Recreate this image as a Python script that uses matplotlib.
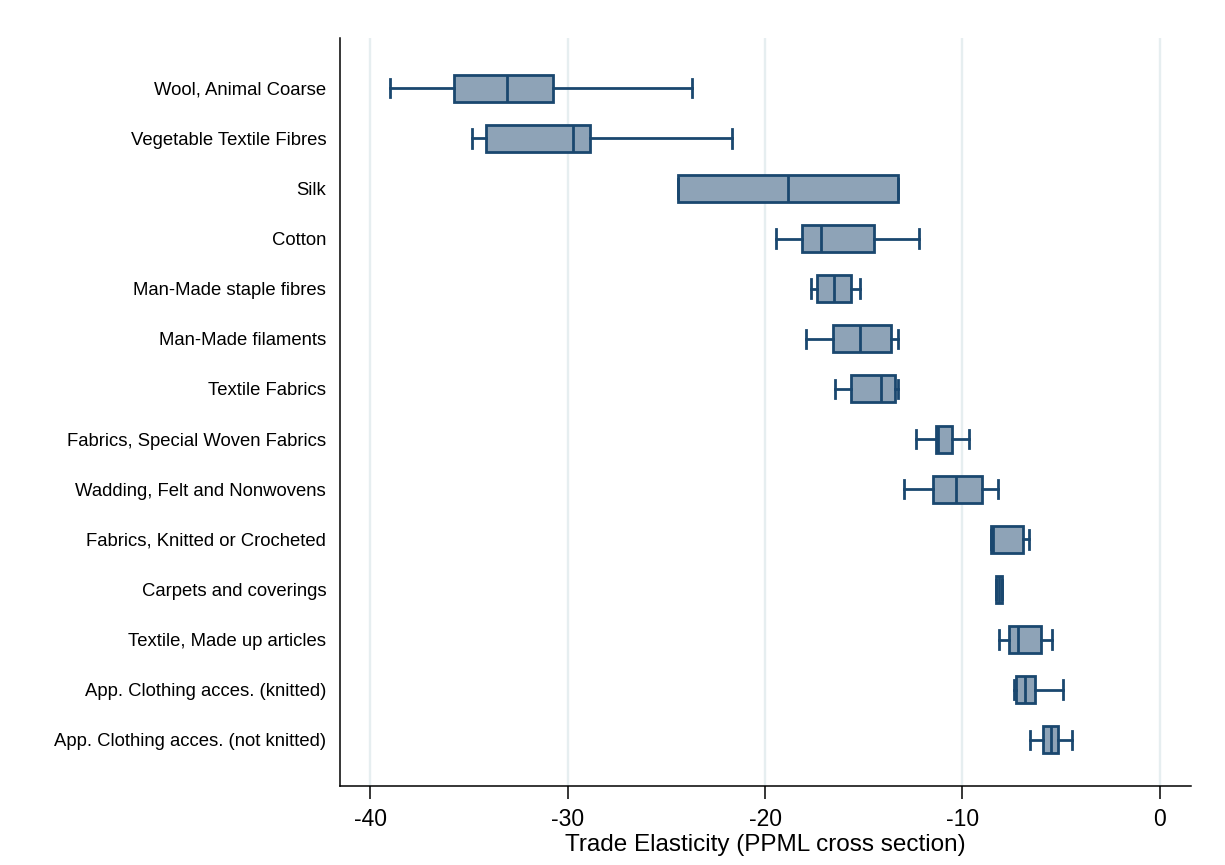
import matplotlib
matplotlib.use("Agg")
import matplotlib.pyplot as plt
import numpy as np

plt.rcParams['font.family'] = ['Liberation Sans', 'DejaVu Sans']

categories = [
    "Wool, Animal Coarse",
    "Vegetable Textile Fibres",
    "Silk",
    "Cotton",
    "Man-Made staple fibres",
    "Man-Made filaments",
    "Textile Fabrics",
    "Fabrics, Special Woven Fabrics",
    "Wadding, Felt and Nonwovens",
    "Fabrics, Knitted or Crocheted",
    "Carpets and coverings",
    "Textile, Made up articles",
    "App. Clothing acces. (knitted)",
    "App. Clothing acces. (not knitted)",
]

whisker_low = [-38.97, -34.86, -24.40, -19.42, -17.69, -17.91, -16.44,
               -12.36, -12.95, -8.57, -8.29, -8.14, -7.40, -6.58]
q1 = [-35.77, -34.12, -24.40, -18.11, -17.38, -16.57, -15.65,
      -11.34, -11.51, -8.57, -8.29, -7.63, -7.31, -5.91]
median = [-33.05, -29.70, -18.84, -17.18, -16.51, -15.19, -14.11,
          -11.22, -10.31, -8.47, -8.15, -7.17, -6.85, -5.53]
q3 = [-30.75, -28.84, -13.28, -14.49, -15.63, -13.62, -13.42,
      -10.53, -9.00, -6.95, -8.02, -6.01, -6.34, -5.16]
whisker_high = [-23.68, -21.68, -13.28, -12.19, -15.19, -13.28, -13.25,
                -9.65, -8.22, -6.63, -8.02, -5.45, -4.90, -4.44]

xticks = [-40, -30, -20, -10, 0]

edge = '#1a476f'
fill = '#8ea3b7'
grid = '#e6eef0'

stats = []
for name, lo, a, m, b, hi in zip(categories, whisker_low, q1, median, q3, whisker_high):
    stats.append(dict(label=name, whislo=lo, q1=a, med=m, q3=b, whishi=hi, fliers=[]))

fig = plt.figure(figsize=(12.25, 8.65), dpi=100)
ax = fig.add_axes([0.2776, 0.0913, 0.6946, 0.8648])

positions = np.arange(1, len(categories) + 1)
ax.bxp(stats, positions=positions, orientation='horizontal', widths=0.54,
       capwidths=0.37, patch_artist=True, showfliers=False,
       boxprops=dict(facecolor=fill, edgecolor=edge, linewidth=2.0),
       medianprops=dict(color=edge, linewidth=2.0),
       whiskerprops=dict(color=edge, linewidth=2.0),
       capprops=dict(color=edge, linewidth=2.0))

ax.set_xlim(-41.52, 1.57)
ax.set_ylim(14.92, 0.0)
ax.set_xticks(xticks)
ax.set_xticklabels([str(t) for t in xticks], fontsize=16.5)
ax.set_yticks(positions)
ax.set_yticklabels(categories, fontsize=13.3)
ax.tick_params(axis='y', length=0, pad=10)
ax.tick_params(axis='x', length=9, width=1.1, pad=7)

ax.set_axisbelow(True)
ax.grid(axis='x', color=grid, linewidth=1.7)
ax.grid(axis='y', visible=False)

for side in ('top', 'right'):
    ax.spines[side].set_visible(False)
for side in ('left', 'bottom'):
    ax.spines[side].set_linewidth(1.1)
    ax.spines[side].set_color('black')

ax.set_xlabel("Trade Elasticity (PPML cross section)", fontsize=17.5, labelpad=2)

fig.savefig("out.png", dpi=100)
